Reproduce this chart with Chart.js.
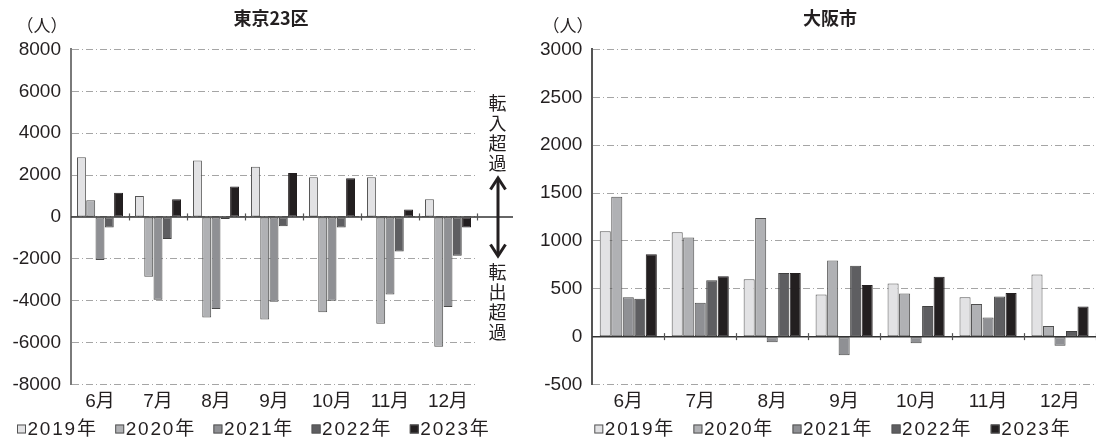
<!DOCTYPE html>
<html lang="ja">
<head>
<meta charset="utf-8">
<script src="https://cdn.jsdelivr.net/npm/chart.js@4"></script>
<style>
  html, body { margin: 0; padding: 0; background: #fff; }
  #wrap { position: relative; width: 1096px; height: 441px; overflow: hidden; }
  canvas { position: absolute; top: 0; }
  #cTokyo { left: 0; }
  #cOsaka { left: 538px; }
</style>
</head>
<body>
<div id="wrap">
  <canvas id="cTokyo" width="538" height="441"></canvas>
  <canvas id="cOsaka" width="558" height="441"></canvas>
</div>
<script>
// 月別の転入超過数（人）
const months = ['6月', '7月', '8月', '9月', '10月', '11月', '12月'];
const years = ['2019年', '2020年', '2021年', '2022年', '2023年'];

// 東京23区
const tokyo2019 = [2850, 1000, 2700, 2400, 1900, 1900, 850];
const tokyo2020 = [800, -2850, -4800, -4900, -4550, -5100, -6200];
const tokyo2021 = [-2050, -3950, -4400, -4050, -4000, -3700, -4300];
const tokyo2022 = [-500, -1050, -100, -450, -500, -1650, -1850];
const tokyo2023 = [1150, 850, 1450, 2100, 1850, 350, -500];
const tokyoTicks = [-8000, -6000, -4000, -2000, 0, 2000, 4000, 6000, 8000];

// 大阪市
const osaka2019 = [1100, 1090, 600, 440, 555, 410, 650];
const osaka2020 = [1460, 1035, 1240, 795, 450, 340, 110];
const osaka2021 = [410, 355, -60, -195, -70, 200, -95];
const osaka2022 = [395, 590, 665, 740, 320, 420, 60];
const osaka2023 = [860, 630, 665, 540, 625, 455, 315];
const osakaTicks = [-500, 0, 500, 1000, 1500, 2000, 2500, 3000];

const fills = ['#e2e2e4', '#b0b1b4', '#8f9094', '#5e5e61', '#231f20'];
const edges = ['#555555', '#505050', '#4a4a4a', '#404040', '#231f20'];
const ink = '#231f20';
const latin = '"Liberation Sans", "Noto Sans CJK JP", sans-serif';
const cjk = '"Noto Sans CJK JP", "Liberation Sans", sans-serif';

Chart.defaults.font.family = latin;
Chart.defaults.color = ink;

function makeDatasets(series) {
  return series.map((values, i) => ({
    label: years[i],
    data: values,
    backgroundColor: fills[i],
    borderColor: edges[i],
    borderWidth: 1,
    borderSkipped: false,
    barPercentage: 0.96,
    categoryPercentage: 0.8
  }));
}

// Zero line, month separators, title, unit label, legend and the in/out arrow
const decor = {
  id: 'decor',
  afterDatasetsDraw(chart, args, opts) {
    const { ctx, chartArea: a, scales: { y } } = chart;
    const y0 = y.getPixelForValue(0);
    ctx.save();
    ctx.strokeStyle = '#333';
    ctx.lineWidth = 1.5;
    ctx.beginPath();
    ctx.moveTo(a.left, y0);
    ctx.lineTo(opts.zeroEnd != null ? opts.zeroEnd : a.right, y0);
    ctx.stroke();
    const n = chart.data.labels.length;
    const step = (a.right - a.left) / n;
    ctx.strokeStyle = '#555';
    ctx.lineWidth = 1.2;
    for (let i = 1; i <= n; i++) {
      const px = Math.round(a.left + step * i) + 0.5;
      ctx.beginPath();
      ctx.moveTo(px, y0 - 3.5);
      ctx.lineTo(px, y0 + 3.5);
      ctx.stroke();
    }
    ctx.restore();
  },
  afterDraw(chart, args, opts) {
    const { ctx } = chart;
    ctx.save();
    ctx.fillStyle = ink;
    ctx.textAlign = 'center';
    ctx.textBaseline = 'middle';

    // title
    ctx.font = 'bold 18px ' + cjk;
    ctx.fillText(opts.title, opts.titleX, opts.titleY);

    // unit
    ctx.font = '17px ' + cjk;
    ctx.fillText('（人）', opts.unitX, opts.unitY);

    // legend
    ctx.font = '19px ' + latin;
    if ('letterSpacing' in ctx) ctx.letterSpacing = '1.8px';
    ctx.textAlign = 'left';
    chart.data.datasets.forEach((ds, i) => {
      const bx = opts.legendX + i * opts.legendStep;
      const by = opts.legendY;
      ctx.fillStyle = ds.backgroundColor;
      ctx.fillRect(bx, by - 4.5, 9, 9);
      ctx.strokeStyle = '#555';
      ctx.lineWidth = 1;
      ctx.strokeRect(bx + 0.5, by - 4.5 + 0.5, 8, 8);
      ctx.fillStyle = ink;
      ctx.fillText(ds.label, bx + 10.5, by + 1);
    });
    if ('letterSpacing' in ctx) ctx.letterSpacing = '0px';

    // arrow with vertical captions
    if (opts.arrow) {
      const ar = opts.arrow;
      ctx.strokeStyle = ink;
      ctx.lineWidth = 3;
      ctx.beginPath();
      ctx.moveTo(ar.x, ar.top + 1);
      ctx.lineTo(ar.x, ar.bottom - 1);
      ctx.stroke();
      ctx.beginPath();
      ctx.moveTo(ar.x - 7.5, ar.top + 11.5);
      ctx.lineTo(ar.x, ar.top);
      ctx.lineTo(ar.x + 7.5, ar.top + 11.5);
      ctx.stroke();
      ctx.beginPath();
      ctx.moveTo(ar.x - 7.5, ar.bottom - 11.5);
      ctx.lineTo(ar.x, ar.bottom);
      ctx.lineTo(ar.x + 7.5, ar.bottom - 11.5);
      ctx.stroke();
      ctx.fillStyle = ink;
      ctx.font = '18px ' + cjk;
      ctx.textAlign = 'center';
      ctx.textBaseline = 'middle';
      [...ar.upText].forEach((ch, i) => ctx.fillText(ch, ar.x - 0.5, ar.upY + i * 20));
      [...ar.downText].forEach((ch, i) => ctx.fillText(ch, ar.x - 0.5, ar.downY + i * 20));
    }
    ctx.restore();
  }
};

function makeOptions(ticks, rightPad, axisWidth, axisColor, decorOpts) {
  return {
    responsive: false,
    animation: false,
    devicePixelRatio: 1,
    layout: { padding: { top: 49.4, bottom: 0, left: 0, right: rightPad } },
    plugins: {
      legend: { display: false },
      tooltip: { enabled: false },
      title: { display: false },
      decor: decorOpts
    },
    scales: {
      x: {
        grid: { display: false, drawTicks: false },
        border: { display: false },
        ticks: { color: ink, font: { size: 19, family: latin }, padding: 6, maxRotation: 0 },
        afterFit(scale) { scale.height = 56.5; }
      },
      y: {
        min: ticks[0],
        max: ticks[ticks.length - 1],
        grid: { color: '#a5a5a5', lineWidth: 1, drawTicks: false },
        border: { display: true, color: axisColor, width: 2, dash: [7, 3, 1, 3] },
        ticks: {
          stepSize: ticks[1] - ticks[0],
          color: ink,
          font: { size: 19, family: latin },
          padding: 10,
          callback: (v) => String(v)
        },
        afterFit(scale) { scale.width = axisWidth; }
      }
    }
  };
}

new Chart(document.getElementById('cTokyo'), {
  type: 'bar',
  data: {
    labels: months,
    datasets: makeDatasets([tokyo2019, tokyo2020, tokyo2021, tokyo2022, tokyo2023])
  },
  options: makeOptions(tokyoTicks, 61, 71, '#7a7a7a', {
    title: '東京23区', titleX: 271, titleY: 17.8,
    unitX: 42, unitY: 26,
    legendX: 17, legendStep: 98.2, legendY: 429,
    zeroEnd: 513,
    arrow: { x: 498, top: 178, bottom: 256, upText: '転入超過', upY: 103, downText: '転出超過', downY: 272 }
  }),
  plugins: [decor]
});

new Chart(document.getElementById('cOsaka'), {
  type: 'bar',
  data: {
    labels: months,
    datasets: makeDatasets([osaka2019, osaka2020, osaka2021, osaka2022, osaka2023])
  },
  options: makeOptions(osakaTicks, 0, 54.3, '#555555', {
    title: '大阪市', titleX: 292, titleY: 17.8,
    unitX: 30, unitY: 26,
    legendX: 56.3, legendStep: 99.1, legendY: 429
  }),
  plugins: [decor]
});
</script>
</body>
</html>
